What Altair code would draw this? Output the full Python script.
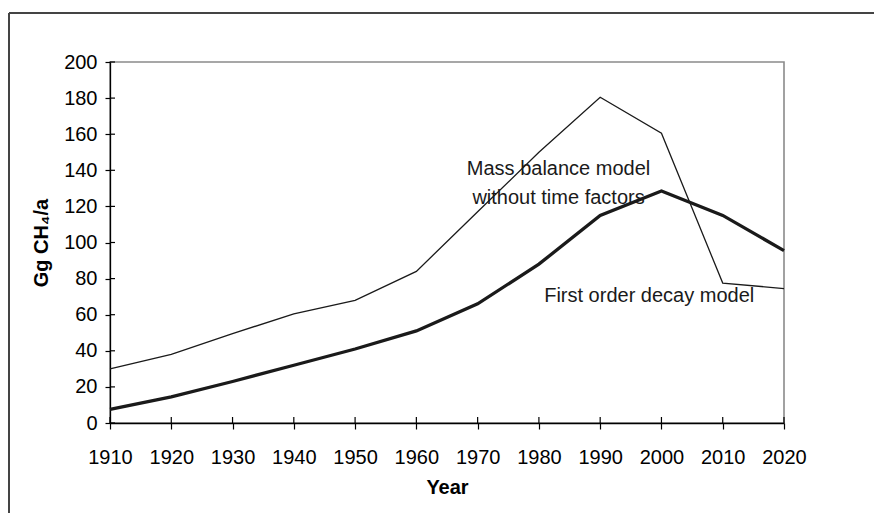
import altair as alt
import pandas as pd

# ---- data ----
years = [1910, 1920, 1930, 1940, 1950, 1960, 1970, 1980, 1990, 2000, 2010, 2020]
mass_balance = [30, 38, 49.5, 60.5, 68, 84, 117, 150, 180.5, 160.5, 77.5, 74.5]
first_order = [7.5, 14.5, 23, 32, 41, 51, 66, 88, 115, 128.5, 115, 95.5]
series_names = ["Mass balance model without time factors", "First order decay model"]
y_ticks = [0, 20, 40, 60, 80, 100, 120, 140, 160, 180, 200]

ann_text = ["Mass balance model", "without time factors", "First order decay model"]
ann_x = [1983.2, 1983.2, 1998]
ann_y = [137.6, 121.3, 67.2]

FONT = "Liberation Sans, Arial, sans-serif"
INK = "#1a1a1a"

rows = []
for yr, m, f in zip(years, mass_balance, first_order):
    rows.append({"year": yr, "value": m, "series": series_names[0]})
    rows.append({"year": yr, "value": f, "series": series_names[1]})
df = pd.DataFrame(rows)

xs = alt.Scale(domain=[1910, 2020], nice=False, zero=False)
ys = alt.Scale(domain=[0, 200], nice=False)

common = dict(grid=False, labelOverlap=False, labelFlush=False, labelBound=False,
              domainColor="#000", domainWidth=1.3,
              tickColor="#000", tickWidth=1.2, labelFont=FONT, labelFontSize=20,
              labelColor="#000", titleFont=FONT, titleFontSize=20,
              titleFontWeight="bold", titleColor="#000")

ax_x = alt.Axis(values=years, format="d", title="Year",
                tickSize=6, labelPadding=18, titlePadding=10, **common)
ax_y = alt.Axis(values=y_ticks, format="d", title="Gg CH₄/a", tickCount=11,
                tickSize=5, labelPadding=8, titlePadding=12, **common)

lines = alt.Chart(df).mark_line(color=INK, strokeJoin="miter").encode(
    x=alt.X("year:Q", scale=xs, axis=ax_x),
    y=alt.Y("value:Q", scale=ys, axis=ax_y),
    strokeWidth=alt.StrokeWidth("series:N",
                                scale=alt.Scale(domain=series_names, range=[1.3, 3.3]),
                                legend=None),
    detail="series:N",
)

# inner halves of the crossing tick marks
xt = alt.Chart(pd.DataFrame({"year": years})).mark_rule(color="#000", strokeWidth=1.2).encode(
    x=alt.X("year:Q", scale=xs, axis=ax_x),
    y=alt.value(361), y2=alt.value(355),
)
yt = alt.Chart(pd.DataFrame({"value": y_ticks})).mark_rule(color="#000", strokeWidth=1.2).encode(
    y=alt.Y("value:Q", scale=ys, axis=ax_y),
    x=alt.value(0), x2=alt.value(5),
)

ann = alt.Chart(pd.DataFrame({"year": ann_x, "value": ann_y, "t": ann_text})).mark_text(
    font=FONT, fontSize=20, align="center", baseline="alphabetic", color=INK
).encode(
    x=alt.X("year:Q", scale=xs, axis=ax_x),
    y=alt.Y("value:Q", scale=ys, axis=ax_y),
    text="t:N",
)

one = alt.Data(values=[{}])
frame_top = alt.Chart(one).mark_rule(color="#444", strokeWidth=2).encode(
    x=alt.value(-101), x2=alt.value(800), y=alt.value(-49)
)
frame_left = alt.Chart(one).mark_rule(color="#444", strokeWidth=2).encode(
    x=alt.value(-101), y=alt.value(-49), y2=alt.value(520)
)

chart = alt.layer(lines, xt, yt, ann, frame_top, frame_left).properties(
    width=674, height=361,
    background="white",
    autosize=alt.AutoSizeParams(type="none"),
    padding={"left": 102, "top": 54, "right": 90, "bottom": 90},
).configure_view(
    stroke="#8a8a8a", strokeWidth=1.6
).configure_axis(
    grid=False, labelFontSize=20, titleFontSize=20
)

chart.save("out.html", embed_options={"renderer": "svg", "actions": False})
